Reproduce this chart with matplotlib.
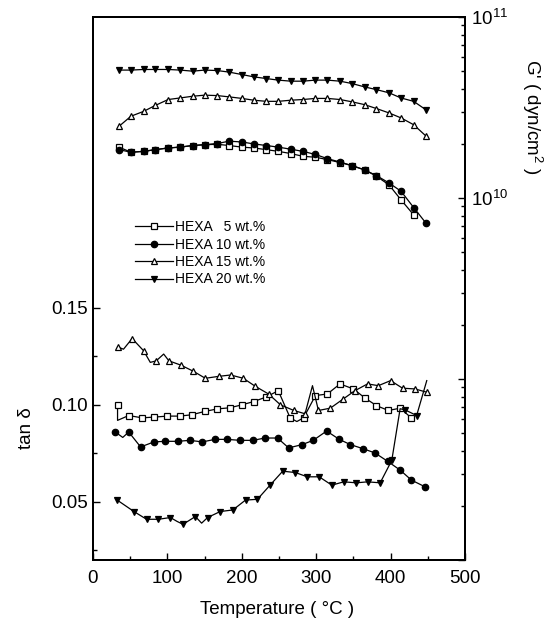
import numpy as np
import matplotlib
matplotlib.use('Agg')
import matplotlib.pyplot as plt
from matplotlib.ticker import FixedLocator, NullFormatter

plt.rcParams['font.family'] = 'Liberation Sans'
plt.rcParams['mathtext.default'] = 'regular'

# storage modulus G' (units of 1e10 dyn/cm2) vs temperature
T_G = [35, 51, 68, 84, 101, 117, 134, 150, 167, 183, 200, 216, 233, 249, 266,
       282, 299, 315, 332, 348, 365, 381, 398, 414, 431, 447]
g5 = [1.91, 1.79, 1.81, 1.85, 1.89, 1.91, 1.95, 1.97, 1.98, 1.95, 1.91, 1.89, 1.85,
      1.81, 1.76, 1.70, 1.68, 1.63, 1.57, 1.51, 1.43, 1.32, 1.18, 0.977, 0.807]
g10 = [1.85, 1.79, 1.81, 1.85, 1.89, 1.91, 1.95, 1.97, 2.00, 2.06, 2.04, 1.99, 1.95,
       1.91, 1.86, 1.81, 1.74, 1.65, 1.58, 1.51, 1.43, 1.33, 1.21, 1.09, 0.886, 0.731]
g15 = [2.49, 2.83, 3.01, 3.25, 3.50, 3.57, 3.65, 3.70, 3.68, 3.62, 3.55, 3.47, 3.42,
       3.42, 3.47, 3.50, 3.55, 3.55, 3.50, 3.40, 3.28, 3.12, 2.95, 2.77, 2.54, 2.21]
g20 = [5.09, 5.09, 5.13, 5.13, 5.13, 5.09, 5.02, 5.09, 5.06, 4.96, 4.81, 4.67, 4.57,
       4.48, 4.42, 4.42, 4.48, 4.48, 4.42, 4.29, 4.11, 3.97, 3.81, 3.57, 3.42, 3.08]

# tan delta curves (some points are line-only, see *_nomark)
t5 = [33, 33, 48, 66, 82.5, 100, 116.5, 133, 150, 167, 184, 200, 216, 232.5, 249,
      265, 274, 283, 299, 315, 332, 350, 366, 381, 397, 413, 428]
d5 = [0.100, 0.092, 0.0945, 0.0933, 0.0937, 0.0942, 0.0942, 0.0949, 0.0966, 0.0979,
      0.0985, 0.100, 0.1017, 0.104, 0.1073, 0.0933, 0.0914, 0.0933, 0.1048, 0.1056,
      0.1108, 0.1082, 0.1034, 0.0996, 0.0971, 0.0983, 0.0932]
d5_nomark = [1, 16]

t10 = [30, 40, 48, 64, 82, 97, 114, 130, 147, 164, 180, 198, 215, 231, 248, 263,
       281, 296, 314, 331, 346, 363, 379, 396, 413, 428, 446]
d10 = [0.086, 0.0832, 0.086, 0.0783, 0.0809, 0.0812, 0.0812, 0.0817, 0.0809, 0.0822,
       0.0822, 0.0817, 0.0817, 0.0829, 0.0829, 0.0778, 0.0795, 0.0817, 0.0865, 0.0822,
       0.0795, 0.0774, 0.0752, 0.0709, 0.0663, 0.0612, 0.0578]
d10_nomark = [1]

t15 = [33, 41, 52.6, 68, 77, 85, 95, 102, 118, 135, 151, 169, 185, 202, 218, 236,
       252, 270, 285, 295, 303, 319, 336.6, 352, 369, 383.6, 400, 416, 433, 448.6]
d15 = [0.1299, 0.1287, 0.1342, 0.1279, 0.1219, 0.1227, 0.1262, 0.1227, 0.1205,
       0.1173, 0.1137, 0.1147, 0.1154, 0.1137, 0.1096, 0.1056, 0.100, 0.0971, 0.0954,
       0.1099, 0.0971, 0.0983, 0.1031, 0.1073, 0.1108, 0.1099, 0.1125, 0.1086,
       0.1082, 0.1065]
d15_nomark = [1, 4, 6, 19]

t20 = [32.5, 55, 72, 88, 104, 113, 121, 137.6, 146, 154, 171, 188, 205, 221, 238,
       255, 272, 288, 304, 321, 337, 354, 369, 386, 401.6, 412.8, 419.5, 435, 448.6]
d20 = [0.0509, 0.045, 0.041, 0.041, 0.0419, 0.0399, 0.0384, 0.0424, 0.039, 0.0419,
       0.045, 0.0458, 0.0509, 0.0513, 0.0586, 0.0658, 0.0651, 0.0629, 0.0629, 0.0586,
       0.0603, 0.0598, 0.0603, 0.0598, 0.0714, 0.098, 0.0974, 0.0945, 0.1125]
d20_nomark = [5, 8, 25, 28]

labels = ['HEXA   5 wt.%', 'HEXA 10 wt.%', 'HEXA 15 wt.%', 'HEXA 20 wt.%']


def marks(n, skip):
    return [i for i in range(n) if i not in skip]


fig = plt.figure(figsize=(5.49, 6.23), dpi=100)
ax = fig.add_axes([93 / 549, 63 / 623, 372 / 549, 543 / 623])
ax2 = ax.twinx()

ms = 4.6
lw = 0.9
styles = [
    dict(marker='s', mfc='white'),
    dict(marker='o', mfc='black'),
    dict(marker='^', mfc='white'),
    dict(marker='v', mfc='black'),
]

# tan delta, left axis
tan_sets = [(t5, d5, d5_nomark), (t10, d10, d10_nomark),
            (t15, d15, d15_nomark), (t20, d20, d20_nomark)]
handles = []
for (t, d, skip), st, lab in zip(tan_sets, styles, labels):
    h, = ax.plot(t, d, color='black', lw=lw, ms=ms, mec='black', mew=0.9,
                 markevery=marks(len(t), skip), label=lab, **st)
    handles.append(h)

# G', right axis (log)
for g, st in zip([g5, g10, g15, g20], styles):
    ax2.plot(T_G[:len(g)], np.array(g) * 1e10, color='black', lw=lw, ms=ms,
             mec='black', mew=0.9, **st)

ax.set_xlim(0, 500)
ax.set_ylim(0.02, 0.30)
ax2.set_yscale('log')
ax2.set_ylim(1e8, 1e11)

ax.set_xticks([0, 100, 200, 300, 400, 500])
ax.set_xticks([50, 150, 250, 350, 450], minor=True)
ax.set_yticks([0.05, 0.10, 0.15])
ax.set_yticklabels(['0.05', '0.10', '0.15'])
ax.set_yticks([0.025, 0.075, 0.125], minor=True)

ax2.yaxis.set_major_locator(FixedLocator([1e8, 1e9, 1e10, 1e11]))
ax2.set_yticklabels(['', '', '$10^{10}$', '$10^{11}$'])
minor = [k * 10.0 ** e for e in (8, 9, 10) for k in range(2, 10)]
ax2.yaxis.set_minor_locator(FixedLocator(minor))
ax2.yaxis.set_minor_formatter(NullFormatter())

for a in (ax, ax2):
    a.tick_params(which='both', direction='in', labelsize=13.5, width=1.0)
    a.tick_params(which='major', length=5)
    a.tick_params(which='minor', length=3)
    for s in a.spines.values():
        s.set_linewidth(1.4)
ax.tick_params(axis='x', pad=7)
ax.tick_params(axis='y', right=False)
ax2.tick_params(axis='y', pad=4)

ax.set_xlabel('Temperature ( °C )', fontsize=13.5)
ax.xaxis.set_label_coords(0.495, -0.075)
ax.set_ylabel('tan δ', fontsize=13.5)
ax.yaxis.set_label_coords(-0.155, 0.243)
ax2.set_ylabel("G' ( dyn/cm$^2$ )", fontsize=13.5, rotation=-90,
               va='center', ha='center')
ax2.yaxis.set_label_coords(1.18, 0.816)

ax.legend(handles=handles, loc='upper left', bbox_to_anchor=(0.113, 0.626),
          frameon=False, fontsize=10, numpoints=1, handlelength=2.7,
          handletextpad=0.15, labelspacing=0.25, borderpad=0, borderaxespad=0)

fig.savefig('out.png', dpi=100)
